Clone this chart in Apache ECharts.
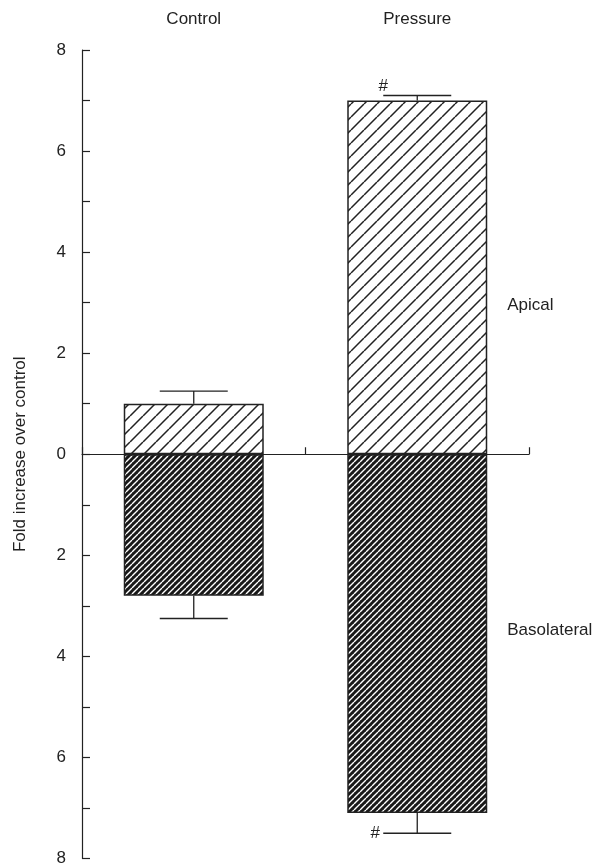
<!DOCTYPE html>
<html>
<head>
<meta charset="utf-8">
<script src="https://cdn.jsdelivr.net/npm/echarts@6/dist/echarts.min.js"></script>
<style>
  html, body { margin: 0; padding: 0; background: #fff; }
  #chart { width: 615px; height: 867px; }
</style>
</head>
<body>
<div id="chart"></div>
<script>
// Fold change of apical vs basolateral release, control vs pressure
const categories = ['Control', 'Pressure'];
const apical = [1.0, 7.0];
const apicalErr = [1.25, 7.1];          // top of the error bar
const basolateral = [-2.8, -7.1];       // drawn below zero
const basolateralErr = [-3.25, -7.5];
const significance = ['', '#'];         // marks beside the error caps
const sideLabels = [
  { cat: 1, value: 2.95, text: 'Apical' },
  { cat: 1, value: -3.48, text: 'Basolateral' }
];
const yTicks = [-8, 8, 1];              // min, max, step

const FONT = 'Liberation Sans, Arial, sans-serif';
const INK = '#222';
const BAR_W = 140;
const FS = 17;

// Diagonal hatch tile ("/" direction)
function hatch(size, lineWidth, bg, fg) {
  const c = document.createElement('canvas');
  c.width = size; c.height = size;
  const g = c.getContext('2d');
  g.fillStyle = bg;
  g.fillRect(0, 0, size, size);
  g.strokeStyle = fg;
  g.lineWidth = lineWidth;
  g.beginPath();
  for (let k = -1; k <= 1; k++) {
    g.moveTo(k * size, size);
    g.lineTo(k * size + size, 0);
  }
  g.stroke();
  return c;
}

const lightHatch = { image: hatch(13, 1.5, '#ffffff', INK), repeat: 'repeat' };
const darkHatch = { image: hatch(6, 1.4, '#181818', '#ffffff'), repeat: 'repeat' };

const errRows = [];
categories.forEach((c, i) => {
  errRows.push([i, apical[i], apicalErr[i], significance[i]]);
  errRows.push([i, basolateral[i], basolateralErr[i], significance[i]]);
});

const chart = echarts.init(document.getElementById('chart'), null, { renderer: 'canvas' });

chart.setOption({
  animation: false,
  backgroundColor: '#fff',
  grid: { left: 82, right: 86, top: 50, bottom: 6 },
  xAxis: [
    {
      type: 'category',
      data: categories,
      position: 'bottom',
      axisLine: { onZero: true, lineStyle: { color: INK, width: 1.2 } },
      axisTick: { show: true, inside: true, length: 7, lineStyle: { color: INK, width: 1.2 } },
      axisLabel: { show: false },
      splitLine: { show: false }
    },
    {
      type: 'category',
      data: categories,
      position: 'top',
      axisLine: { show: false, onZero: false },
      axisTick: { show: false },
      axisLabel: { show: true, margin: 22, fontSize: FS, color: INK, fontFamily: FONT },
      splitLine: { show: false }
    }
  ],
  yAxis: {
    type: 'value',
    min: yTicks[0],
    max: yTicks[1],
    interval: yTicks[2],
    name: 'Fold increase over control',
    nameLocation: 'middle',
    nameGap: 53,
    nameRotate: 90,
    nameTextStyle: { fontSize: FS, color: INK, fontFamily: FONT },
    axisLine: { show: true, lineStyle: { color: INK, width: 1.2 } },
    axisTick: { show: true, inside: true, length: 8, lineStyle: { color: INK, width: 1.2 } },
    axisLabel: {
      margin: 16,
      fontSize: FS,
      color: INK,
      fontFamily: FONT,
      formatter: v => (v % 2 === 0 ? String(Math.abs(v)) : '')
    },
    splitLine: { show: false }
  },
  series: [
    {
      name: 'Apical',
      type: 'bar',
      xAxisIndex: 0,
      data: apical,
      barWidth: BAR_W,
      barGap: '-100%',
      itemStyle: { color: lightHatch, borderColor: INK, borderWidth: 1.5 },
      z: 2
    },
    {
      name: 'Basolateral',
      type: 'bar',
      xAxisIndex: 0,
      data: basolateral,
      barWidth: BAR_W,
      barGap: '-100%',
      itemStyle: { color: darkHatch, borderColor: INK, borderWidth: 1.5 },
      z: 2
    },
    {
      // error bars with caps and significance marks
      type: 'custom',
      xAxisIndex: 0,
      data: errRows,
      z: 3,
      renderItem: function (params, api) {
        const base = api.coord([api.value(0), api.value(1)]);
        const end = api.coord([api.value(0), api.value(2)]);
        const mark = errRows[params.dataIndex][3];
        const half = 34;
        const up = api.value(1) > 0;
        const children = [
          { type: 'line', shape: { x1: base[0], y1: base[1], x2: end[0], y2: end[1] },
            style: { stroke: INK, lineWidth: 1.3 } },
          { type: 'line', shape: { x1: end[0] - half, y1: end[1], x2: end[0] + half, y2: end[1] },
            style: { stroke: INK, lineWidth: 1.3 } }
        ];
        if (mark) {
          children.push({
            type: 'text',
            style: {
              text: mark,
              x: up ? end[0] - half : end[0] - half - 8,
              y: up ? end[1] - 9 : end[1],
              align: 'center',
              verticalAlign: 'middle',
              fontSize: FS,
              fontFamily: FONT,
              fill: INK
            }
          });
        }
        return { type: 'group', children: children };
      }
    },
    {
      // side labels naming each half
      type: 'custom',
      xAxisIndex: 0,
      data: sideLabels.map(d => [d.cat, d.value]),
      z: 3,
      renderItem: function (params, api) {
        const p = api.coord([api.value(0), api.value(1)]);
        return {
          type: 'text',
          style: {
            text: sideLabels[params.dataIndex].text,
            x: p[0] + BAR_W / 2 + 20,
            y: p[1],
            align: 'left',
            verticalAlign: 'middle',
            fontSize: FS,
            fontFamily: FONT,
            fill: INK
          }
        };
      }
    }
  ]
});
</script>
</body>
</html>
